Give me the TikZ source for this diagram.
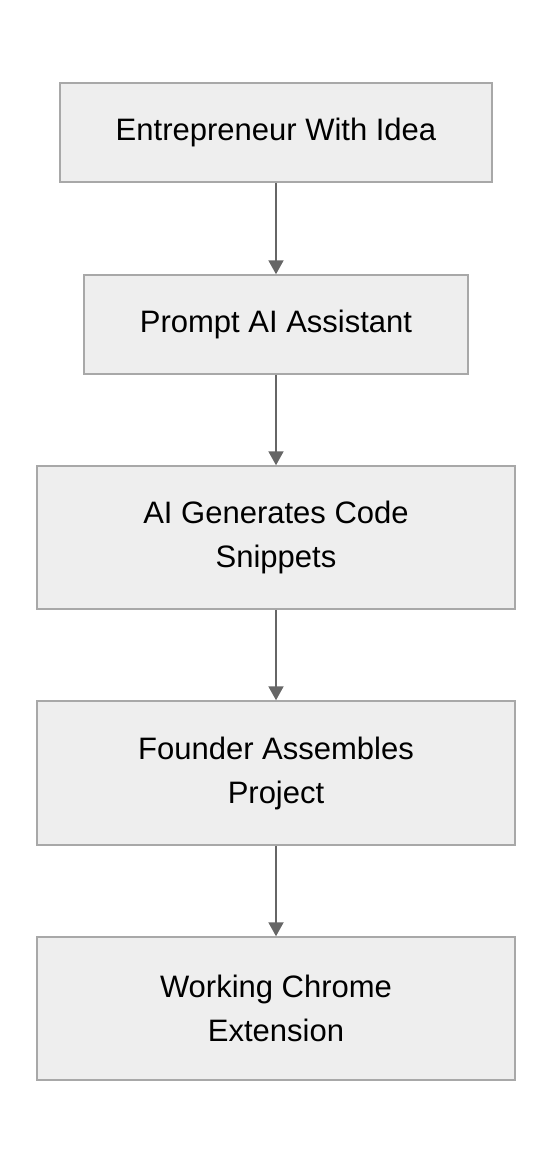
\documentclass[tikz,border=0pt]{standalone}
\usepackage{fontspec}
\setmainfont{Liberation Sans}
\usetikzlibrary{arrows.meta}
\definecolor{boxfill}{HTML}{EEEEEE}
\definecolor{boxline}{HTML}{A8A8A8}
\definecolor{arrowgray}{HTML}{666666}
\tikzset{
  stepbox/.style={draw=boxline, fill=boxfill, line width=1.5pt, align=center,
    inner sep=0pt, font=\fontsize{31}{44}\selectfont},
  flow/.style={draw=arrowgray, line width=2pt, -{Triangle[width=15pt,length=14pt]}}
}
\begin{document}
\begin{tikzpicture}[x=1pt,y=1pt]
			\useasboundingbox (0,0) rectangle (552,-1164);
			
			\node[stepbox, minimum width=432pt, minimum height=99pt] (idea) at (276,-132.5) {Entrepreneur With Idea};
			\node[stepbox, minimum width=384pt, minimum height=99pt] (prompt) at (276,-324.5) {Prompt AI Assistant};
			\node[stepbox, minimum width=478pt, minimum height=143pt] (code) at (276,-537.5) {AI Generates Code\\Snippets};
			\node[stepbox, minimum width=478pt, minimum height=144pt] (assemble) at (276,-773) {Founder Assembles\\Project};
			\node[stepbox, minimum width=478pt, minimum height=143pt] (ext) at (276,-1008.5) {Working Chrome\\Extension};
			
			\draw[flow] (idea) -- (prompt);
			\draw[flow] (prompt) -- (code);
			\draw[flow] (code) -- (assemble);
			\draw[flow] (assemble) -- (ext);
		\end{tikzpicture}
\end{document}
